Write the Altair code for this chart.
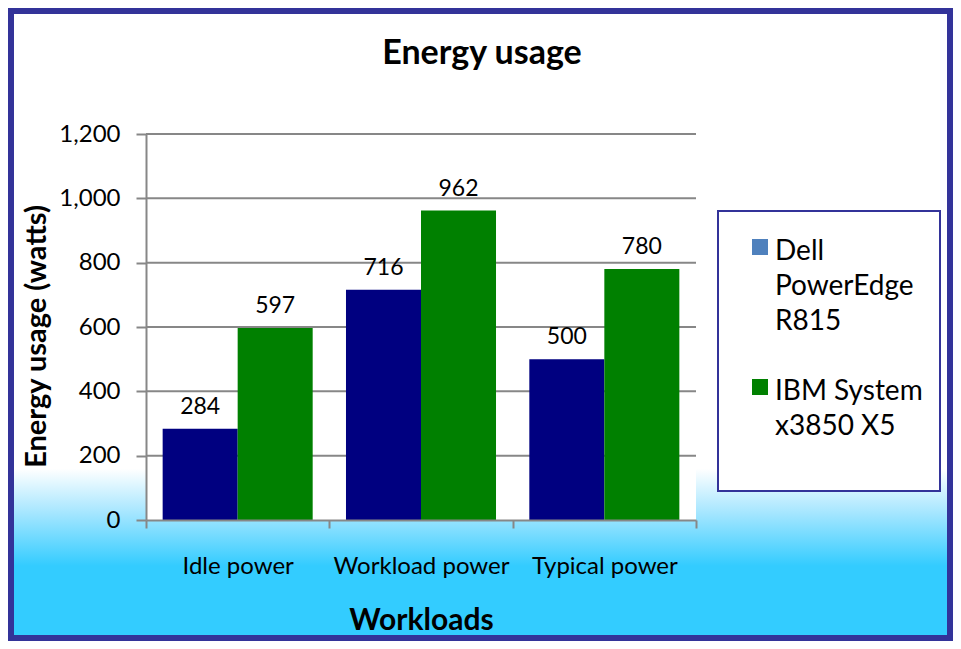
import altair as alt
import pandas as pd

categories = ["Idle power", "Workload power", "Typical power"]
servers = ["Dell PowerEdge R815", "IBM System x3850 X5"]
dell_watts = [284, 716, 500]
ibm_watts = [597, 962, 780]
y_ticks = [0, 200, 400, 600, 800, 1000, 1200]
grid_vals = [200, 400, 600, 800, 1000, 1200]
bar_colors = ["#000080", "#008000"]
legend_colors = ["#4F81BD", "#008000"]
legend_lines = {
    "Dell PowerEdge R815": ["Dell", "PowerEdge", "R815"],
    "IBM System x3850 X5": ["IBM System", "x3850 X5"],
}

rows = []
for c, d, i in zip(categories, dell_watts, ibm_watts):
    rows.append({"workload": c, "server": servers[0], "watts": d})
    rows.append({"workload": c, "server": servers[1], "watts": i})
df = pd.DataFrame(rows)
legend_df = pd.DataFrame({"model": servers})
grid_df = pd.DataFrame({"watts": grid_vals})
one = pd.DataFrame({"k": [0]})

W, H = 550, 386
PADL, PADT, TOTW, TOTH = 138, 126, 945, 633
FONT = "Lato"
AXC = "#878787"
BORDER = "#333399"

x_enc = alt.X(
    "workload:N", sort=categories,
    scale=alt.Scale(paddingInner=0, paddingOuter=0),
    axis=alt.Axis(title="Workloads", labelAngle=0, tickBand="extent", tickSize=8,
                  labelPadding=26, titlePadding=27, labelFontSize=24, labelFont=FONT,
                  labelLineHeight=26,
                  labelColor="black", titleFont=FONT, titleFontSize=30, titleFontWeight="bold",
                  titleColor="black", domainColor=AXC, domainWidth=2, tickColor=AXC,
                  tickWidth=2, grid=False, zindex=1),
)
xo_enc = alt.XOffset("server:N", sort=servers,
                     scale=alt.Scale(paddingInner=0, paddingOuter=0.222))
y_enc = alt.Y(
    "watts:Q", scale=alt.Scale(domain=[0, 1200], nice=False),
    axis=alt.Axis(title="Energy usage (watts)", values=y_ticks, format=",d", tickSize=10,
                  labelPadding=16, titlePadding=7, titleY=202, labelFontSize=24, labelFont=FONT,
                  labelLineHeight=26,
                  labelColor="black", titleFont=FONT, titleFontSize=29,
                  titleFontWeight="bold", titleColor="black", domainColor=AXC,
                  domainWidth=2, tickColor=AXC, tickWidth=2, grid=False, zindex=1),
)

gradient = {
    "gradient": "linear", "x1": 0, "y1": 0, "x2": 0, "y2": 1,
    "stops": [
        {"offset": 0, "color": "#FFFFFF"},
        {"offset": 0.73, "color": "#FFFFFF"},
        {"offset": 0.80, "color": "#A6E6FF"},
        {"offset": 0.885, "color": "#33CCFF"},
        {"offset": 1, "color": "#33CCFF"},
    ],
}

bg = alt.Chart(one).mark_rect(fill=gradient, stroke=BORDER, strokeWidth=6, clip=False).encode(
    x=alt.value(-PADL + 3), x2=alt.value(TOTW - PADL - 3),
    y=alt.value(-PADT + 3), y2=alt.value(TOTH - PADT - 3),
)
plot_bg = alt.Chart(one).mark_rect(fill="white").encode(
    x=alt.value(0), x2=alt.value(W), y=alt.value(0), y2=alt.value(H)
)
grid = alt.Chart(grid_df).mark_rule(color=AXC, strokeWidth=2).encode(y=y_enc)

label_expr = " : ".join(
    f"datum.label == '{k}' ? {v!r}" for k, v in list(legend_lines.items())[:-1]
) + " : " + repr(list(legend_lines.values())[-1])

# hidden behind the Workload bars; only provides the legend
legend_pts = alt.Chart(legend_df).mark_square(size=100).encode(
    fill=alt.Fill("model:N", sort=servers,
                  scale=alt.Scale(domain=servers, range=legend_colors),
                  legend=alt.Legend(orient="none", legendX=600, legendY=90, title=None,
                                    symbolType="M-1,0.125H1V2.125H-1Z", symbolSize=256,
                                    symbolOpacity=1,
                                    symbolStrokeWidth=0, labelFont=FONT, labelFontSize=28,
                                    labelColor="black", labelOffset=1, rowPadding=28,
                                    labelBaseline="top",
                                    labelExpr=label_expr, padding=0, labelLimit=300)),
)

bars = alt.Chart(df).mark_bar().encode(
    x=x_enc, xOffset=xo_enc, y=y_enc,
    color=alt.Color("server:N", sort=servers,
                    scale=alt.Scale(domain=servers, range=bar_colors), legend=None),
)
labels = alt.Chart(df).mark_text(dy=-22, fontSize=23, font=FONT, color="black").encode(
    x=x_enc, xOffset=xo_enc, y=y_enc, text=alt.Text("watts:Q", format=",d")
)
legend_box = alt.Chart(one).mark_rect(fill="white", stroke=BORDER, strokeWidth=2, clip=False).encode(
    x=alt.value(572), x2=alt.value(794), y=alt.value(77), y2=alt.value(357)
)

chart = alt.layer(bg, plot_bg, grid, legend_pts, bars, labels, legend_box).properties(
    width=W, height=H,
    autosize=alt.AutoSizeParams(type="none"),
    padding={"left": PADL, "top": PADT, "right": TOTW - PADL - W, "bottom": TOTH - PADT - H},
    title=alt.Title("Energy usage", font=FONT, fontSize=34, fontWeight="bold", color="black",
                    anchor="middle", frame="group", dx=61, offset=0, dy=97, baseline="bottom"),
).configure_view(stroke=None).configure(
    background="white",
    style={"guide-label": {"lineHeight": 35}},
)

chart.save("out.html", embed_options={"renderer": "svg", "actions": False})
